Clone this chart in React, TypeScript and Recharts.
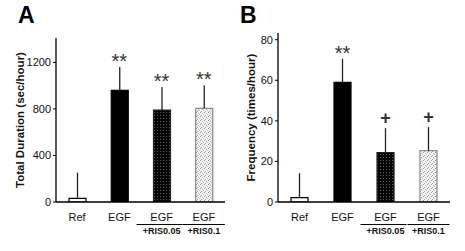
import React from "react";
import { Bar, Cell, ComposedChart, ErrorBar, Scatter, XAxis, YAxis } from "recharts";

const categories = ["Ref", "EGF", "EGF+RIS0.05", "EGF+RIS0.1"];

// panel A: total duration (sec/hour)
const durationMean = [32, 960, 790, 805];
const durationErr = [220, 200, 198, 198];
const durationMarks = ["", "**", "**", "**"];
const durationTicks = [0, 400, 800, 1200];

// panel B: frequency (times/hour)
const freqMean = [2.2, 59, 24.4, 25.3];
const freqErr = [12, 11.6, 12, 11.6];
const freqMarks = ["", "**", "+", "+"];
const freqTicks = [0, 20, 40, 60, 80];

const FONT = "'Liberation Sans', Arial, Helvetica, sans-serif";

const barFills = ["#ffffff", "#000000", "url(#dotDark)", "url(#dotLight)"];
const barStrokes = ["#000000", "#000000", "#222222", "#8a8a8a"];

type Row = { name: string; mean: number; err: [number, number]; top: number; mark: string };

const buildRows = (means: number[], errs: number[], marks: string[]): Row[] =>
  categories.map((name, i) => ({
    name,
    mean: means[i],
    err: [0, errs[i]],
    top: means[i] + errs[i],
    mark: marks[i],
  }));

const durationData = buildRows(durationMean, durationErr, durationMarks);
const freqData = buildRows(freqMean, freqErr, freqMarks);

const CategoryTick = (props: any) => {
  const { x, y, payload, index } = props;
  const [main, sub] = String(payload.value).split("+");
  return (
    <g>
      <text x={x} y={y + 19} textAnchor="middle" fontFamily={FONT} fontSize={11} fill="#111">
        {main}
      </text>
      {sub ? (
        <>
          <line x1={index === 2 ? x - 25 : x - 21} x2={x + 21} y1={y + 22.5} y2={y + 22.5} stroke="#000" strokeWidth={1.2} />
          <text x={x} y={y + 32} textAnchor="middle" fontFamily={FONT} fontSize={9} fontWeight="bold" fill="#111">
            {"+" + sub}
          </text>
        </>
      ) : null}
    </g>
  );
};

const MarkShape = (props: any) => {
  const { cx, cy, payload } = props;
  if (!payload.mark) return <g />;
  const isPlus = payload.mark === "+";
  return (
    <text
      x={cx}
      y={isPlus ? cy - 4 : cy + 1}
      textAnchor="middle"
      fontFamily={FONT}
      fontSize={isPlus ? 18 : 20}
      fontWeight={isPlus ? "bold" : "normal"}
      fill="#333"
    >
      {payload.mark}
    </text>
  );
};

const Patterns = () => (
  <defs>
    <pattern id="dotDark" width="3" height="3" patternUnits="userSpaceOnUse">
      <rect width="3" height="3" fill="#050505" />
      <rect x="1" y="1" width="1" height="1" fill="#5e5e5e" />
    </pattern>
    <pattern id="dotLight" width="4" height="4" patternUnits="userSpaceOnUse">
      <rect width="4" height="4" fill="#f4f4f4" />
      <rect x="0" y="0" width="1" height="1" fill="#9a9a9a" />
      <rect x="2" y="1" width="1" height="1" fill="#b0b0b0" />
      <rect x="1" y="3" width="1" height="1" fill="#a0a0a0" />
      <rect x="3" y="2" width="1" height="1" fill="#c0c0c0" />
    </pattern>
  </defs>
);

interface PanelProps {
  data: Row[];
  ticks: number[];
  domainMax: number;
  yLabel: string;
  yAxisWidth: number;
  labelX: number;
  topMargin: number;
  rightMargin: number;
  width: number;
}

const Panel = ({ data, ticks, domainMax, yLabel, yAxisWidth, labelX, topMargin, rightMargin, width }: PanelProps) => (
  <ComposedChart width={width} height={251} data={data} margin={{ top: topMargin, right: rightMargin, left: 0, bottom: 0 }}>
    <Patterns />
    <XAxis
      dataKey="name"
      height={49}
      axisLine={{ stroke: "#000", strokeWidth: 1.3 }}
      tickLine={false}
      tickSize={0}
      tickMargin={0}
      interval={0}
      tick={<CategoryTick />}
    />
    <YAxis
      width={yAxisWidth}
      domain={[0, domainMax]}
      ticks={ticks}
      allowDataOverflow
      axisLine={{ stroke: "#000", strokeWidth: 1.3 }}
      tickLine={{ stroke: "#000" }}
      tickSize={3}
      tickMargin={2}
      tick={{ fontFamily: FONT, fontSize: 11, fill: "#111" }}
      label={{
        content: (p: any) => {
          const cy = p.viewBox.y + p.viewBox.height / 2;
          return (
            <text
              x={labelX}
              y={cy}
              transform={`rotate(-90 ${labelX} ${cy})`}
              textAnchor="middle"
              dominantBaseline="central"
              fontFamily={FONT}
              fontSize={11.5}
              fontWeight="bold"
              fill="#111"
            >
              {yLabel}
            </text>
          );
        },
      }}
    />
    <Bar dataKey="mean" barSize={17} isAnimationActive={false}>
      {data.map((_, i) => (
        <Cell key={i} fill={barFills[i]} stroke={barStrokes[i]} strokeWidth={1.2} />
      ))}
      <ErrorBar dataKey="err" direction="y" width={0} stroke="#222" strokeWidth={1.3} />
    </Bar>
    <Scatter dataKey="top" shape={<MarkShape />} isAnimationActive={false} />
  </ComposedChart>
);

export default function App() {
  return (
    <div style={{ position: "absolute", left: 0, top: 0, width: 465, height: 251, background: "#fff", fontFamily: FONT }}>
      <div style={{ position: "absolute", left: 18, top: 0, fontSize: 23, fontWeight: "bold", lineHeight: "30px" }}>A</div>
      <div style={{ position: "absolute", left: 240, top: 0, fontSize: 23, fontWeight: "bold", lineHeight: "30px" }}>B</div>
      <div style={{ position: "absolute", left: 0, top: 0 }}>
        <Panel
          data={durationData}
          ticks={durationTicks}
          domainMax={1410}
          yLabel="Total Duration (sec/hour)"
          yAxisWidth={56}
          labelX={19.5}
          topMargin={38}
          rightMargin={7}
          width={232}
        />
      </div>
      <div style={{ position: "absolute", left: 235, top: 0 }}>
        <Panel
          data={freqData}
          ticks={freqTicks}
          domainMax={83.3}
          yLabel="Frequency (times/hour)"
          yAxisWidth={43}
          labelX={16}
          topMargin={33}
          rightMargin={15}
          width={230}
        />
      </div>
    </div>
  );
}
